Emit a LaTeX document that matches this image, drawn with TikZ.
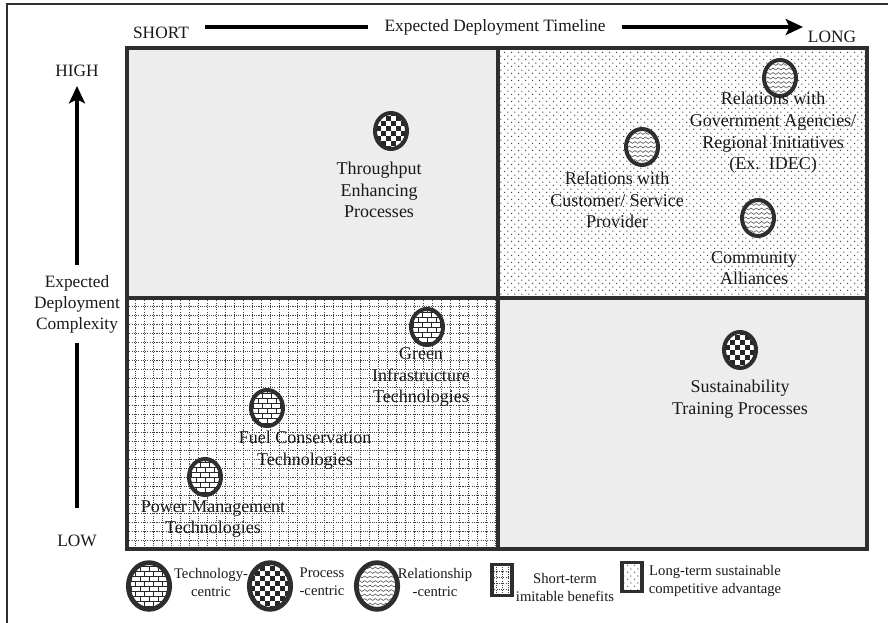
\documentclass[tikz,border=0pt]{standalone}
\usepackage{fontspec}
\setmainfont{Liberation Serif}
\usepackage{tikz}
\usetikzlibrary{shapes,arrows,arrows.meta,patterns,decorations.pathmorphing}
\tikzset{>={Stealth[length=13pt,width=12pt,inset=3pt]}}
\definecolor{framegray}{HTML}{2E2E2E}
\definecolor{quadgray}{HTML}{EDEDED}
\pgfdeclarepatternformonly{sparsedots}{\pgfpointorigin}{\pgfqpoint{5.4pt}{5.4pt}}{\pgfqpoint{5.4pt}{5.4pt}}{
  \pgfpathcircle{\pgfqpoint{1.35pt}{1.35pt}}{0.6pt}
  \pgfpathcircle{\pgfqpoint{4.05pt}{4.05pt}}{0.6pt}
  \pgfusepath{fill}
}
\tikzset{
  axisline/.style={line width=3pt, black},
  gridline/.style={black!75, line width=0.6pt, dash pattern=on 0.8pt off 0.9pt},
  badge/.style={ellipse, draw=framegray, line width=3pt, inner sep=0pt,
    minimum width=24pt, minimum height=27pt},
  bigbadge/.style={minimum width=31pt, minimum height=35pt, line width=3.6pt},
  techbadge/.style={badge, path picture={
      \fill[white] (path picture bounding box.south west) rectangle (path picture bounding box.north east);
      \begin{scope}[shift={(path picture bounding box.center)}]
        \foreach \row in {-5,...,5} {
          \draw[black!85, line width=0.7pt] (-30,\row*5) -- (30,\row*5);
          \foreach \col in {-4,...,4}
            \draw[black!85, line width=0.7pt] ({\col*9+mod(\row+10,2)*4.5},\row*5) -- ++(0,5);
        }
      \end{scope}}},
  procbadge/.style={badge, path picture={
      \fill[white] (path picture bounding box.south west) rectangle (path picture bounding box.north east);
      \begin{scope}[shift={(path picture bounding box.center)}]
        \foreach \col in {-5,...,4} {
          \foreach \row in {-6,-4,...,4}
            \fill[black!85] (\col*5,{(\row+mod(\col+10,2))*5}) rectangle ++(5,5);
        }
      \end{scope}}},
  relbadge/.style={badge, path picture={
      \fill[white] (path picture bounding box.south west) rectangle (path picture bounding box.north east);
      \begin{scope}[shift={(path picture bounding box.center)}]
        \foreach \row in {-5,...,5}
          \draw[black!65, line width=0.45pt, decorate,
            decoration={snake, amplitude=0.7pt, segment length=4pt}] (-30,\row*4.5) -- (30,\row*4.5);
      \end{scope}}},
  quadtext/.style={align=center, inner sep=0pt, text=black!90, font=\fontsize{13.5}{16.2}\selectfont},
  keytext/.style={align=center, inner sep=0pt, text=black!90, font=\fontsize{11}{13.5}\selectfont},
  axistext/.style={align=center, inner sep=1pt, text=black!90, font=\fontsize{13}{15.8}\selectfont}
}

\begin{document}
\begin{tikzpicture}[x=0.75pt,y=-0.75pt]
  \useasboundingbox (0,0) rectangle (888,623);
  % outer frame (cut at right and bottom)
  \draw[framegray, line width=1.2pt] (7,623) -- (7,4) -- (888,4);

  % axes
  \node[axistext, inner xsep=12pt] (timeline) at (495,27) {Expected Deployment Timeline};
  \node[axistext] (short) at (161,33) {SHORT};
  \node[axistext] (long) at (832,37) {LONG};
  \coordinate (tstart) at (205,27);
  \coordinate (tend) at (803,27);
  \draw[axisline] (tstart) -- (timeline);
  \draw[axisline,->] (timeline) -- (tend);

  \node[axistext] (high) at (77,71) {HIGH};
  \node[axistext] (low) at (77,541) {LOW};
  \node[axistext, inner ysep=7pt] (cplx) at (77,304) {Expected\\Deployment\\Complexity};
  \coordinate (cbottom) at (77,508);
  \coordinate (ctop) at (77,86);
  \draw[axisline] (cbottom) -- (cplx);
  \draw[axisline,->] (cplx) -- (ctop);

  % quadrants
  \fill[quadgray] (127,48) rectangle (498,298);
  \fill[quadgray] (498,298) rectangle (867,549);
  \fill[white] (498,48) rectangle (867,298);
  \fill[pattern=sparsedots, pattern color=black!80] (498,48) rectangle (867,298);
  \fill[white] (127,298) rectangle (498,549);
  \foreach \x in {135,144,...,495}
    \draw[gridline] (\x,298) -- (\x,549);
  \foreach \y in {306,315,...,546}
    \draw[gridline] (127,\y) -- (498,\y);
  \draw[framegray, line width=2.7pt] (127,48) rectangle (867,549);
  \draw[framegray, line width=2.7pt] (498,48) -- (498,549);
  \draw[framegray, line width=2.7pt] (127,298) -- (867,298);

  % top left
  \node[procbadge] (thrumark) at (391,131) {};
  \node[quadtext] (thru) at (379,190) {Throughput\\Enhancing\\Processes};

  % top right
  \node[relbadge] (govmark) at (780,78) {};
  \node[quadtext] (gov) at (773,133) {Relations with\\Government Agencies/\\Regional Initiatives\\(Ex.\ \ IDEC)};
  \node[relbadge] (custmark) at (642,147) {};
  \node[quadtext] (cust) at (617,200) {Relations with\\Customer/ Service\\Provider};
  \node[relbadge] (commmark) at (758,218) {};
  \node[quadtext] (comm) at (754,268) {Community\\Alliances};

  % bottom left
  \node[techbadge] (greenmark) at (427,327) {};
  \node[quadtext] (green) at (421,377) {Green\\Infrastructure\\Technologies};
  \node[techbadge] (fuelmark) at (267,408) {};
  \node[quadtext] (fuel) at (305,450) {Fuel Conservation\\Technologies};
  \node[techbadge] (powermark) at (205,477) {};
  \node[quadtext] (power) at (213,519) {Power Management\\Technologies};

  % bottom right
  \node[procbadge] (sustmark) at (740,350) {};
  \node[quadtext] (sust) at (740,399) {Sustainability\\Training Processes};

  % legend
  \node[techbadge, bigbadge] (techkey) at (149,586) {};
  \node[keytext] (techlabel) at (211,582) {Technology-\\centric};
  \node[procbadge, bigbadge] (prockey) at (270,586) {};
  \node[keytext] (proclabel) at (322,582) {Process\\-centric};
  \node[relbadge, bigbadge] (relkey) at (377,586) {};
  \node[keytext] (rellabel) at (435,582) {Relationship\\-centric};
  \node[draw=framegray, line width=2.4pt, minimum width=15pt, minimum height=23pt, inner sep=0pt,
    path picture={
      \foreach \x in {-6,0,6}
        \draw[gridline] ([xshift=\x*0.75pt]path picture bounding box.north) -- ([xshift=\x*0.75pt]path picture bounding box.south);
      \foreach \y in {-9,-3,3,9}
        \draw[gridline] ([yshift=\y*0.75pt]path picture bounding box.west) -- ([yshift=\y*0.75pt]path picture bounding box.east);
    }] (shortkey) at (502,580) {};
  \node[keytext] (shortlabel) at (565,587) {Short-term\\imitable benefits};
  \node[draw=framegray, line width=2.4pt, minimum width=15pt, minimum height=22pt, inner sep=0pt,
    pattern=sparsedots, pattern color=black!60] (longkey) at (632,577) {};
  \node[keytext] (longlabel) at (715,581) {Long-term sustainable\\competitive advantage};
\end{tikzpicture}
\end{document}
